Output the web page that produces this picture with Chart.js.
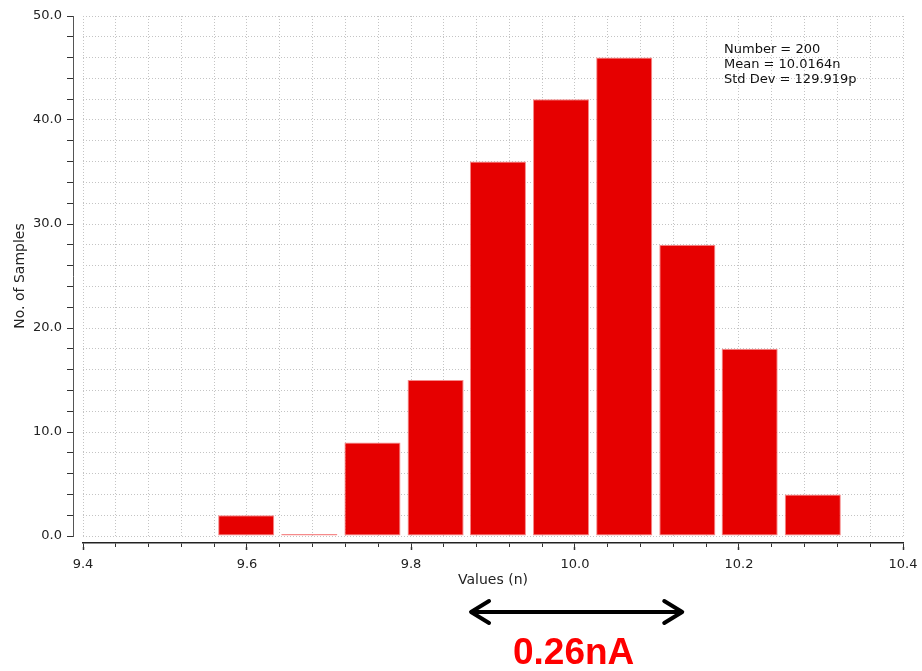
<!DOCTYPE html>
<html>
<head>
<meta charset="utf-8">
<title>Histogram</title>
<script src="https://cdn.jsdelivr.net/npm/chart.js@4.4.1/dist/chart.umd.min.js"></script>
<style>
  html, body { margin: 0; padding: 0; background: #fff; }
  #mycanvas { display: block; }
</style>
</head>
<body>
<canvas id="mycanvas" width="922" height="671"></canvas>
<script>
// histogram bins: centre of each bin (n) and number of samples in it
var binCenters = [9.599, 9.676, 9.753, 9.830, 9.906, 9.983, 10.060, 10.137, 10.213, 10.290];
var binCounts = [2, 0, 9, 15, 36, 42, 46, 28, 18, 4];

var xMin = 9.4, xMax = 10.4;
var yMin = 0, yMax = 50;
var xLabelValues = [9.4, 9.6, 9.8, 10.0, 10.2, 10.4];
var yLabelValues = [0, 10, 20, 30, 40, 50];

var statsLines = ['Number = 200', 'Mean = 10.0164n', 'Std Dev = 129.919p'];
var spreadFrom = 9.872, spreadTo = 10.132;
var spreadLabel = '0.26nA';

Chart.defaults.font.family = '"DejaVu Sans", sans-serif';
Chart.defaults.font.size = 13;
Chart.defaults.color = '#222';

// stats box, the spread arrow and its label
var annotations = {
    id: 'annotations',
    afterDraw: function(chart) {
        var ctx = chart.ctx;
        var xs = chart.scales.x;
        ctx.save();

        ctx.fillStyle = '#111';
        ctx.font = '13px "DejaVu Sans", sans-serif';
        ctx.textAlign = 'left';
        ctx.textBaseline = 'middle';
        for (var i = 0; i < statsLines.length; i++) {
            ctx.fillText(statsLines[i], 724, 50 + i * 15);
        }

        var x1 = xs.getPixelForValue(spreadFrom);
        var x2 = xs.getPixelForValue(spreadTo);
        var y = 612;
        ctx.strokeStyle = '#000';
        ctx.lineWidth = 4;
        ctx.lineCap = 'round';
        ctx.lineJoin = 'round';
        ctx.beginPath();
        ctx.moveTo(x1 + 2, y);
        ctx.lineTo(x2 - 2, y);
        ctx.moveTo(x1 + 19, y - 11);
        ctx.lineTo(x1 + 1, y);
        ctx.lineTo(x1 + 19, y + 11);
        ctx.moveTo(x2 - 19, y - 11);
        ctx.lineTo(x2 - 1, y);
        ctx.lineTo(x2 - 19, y + 11);
        ctx.stroke();

        ctx.fillStyle = '#ff0000';
        ctx.font = 'bold 37px "Liberation Sans", Arial, sans-serif';
        ctx.textAlign = 'center';
        ctx.textBaseline = 'alphabetic';
        ctx.fillText(spreadLabel, (x1 + x2) / 2 - 3, 664);

        ctx.restore();
    }
};

// keep the end labels from shrinking the plot
function noSidePadding(s) {
    s.paddingLeft = 0;
    s.paddingRight = 0;
}

var points = [];
for (var i in binCenters) {
    points.push({x: binCenters[i], y: binCounts[i]});
}

var ctx = document.getElementById('mycanvas');

var histogram = new Chart(ctx, {
    type: 'bar',
    data: {
        datasets: [{
            label: 'No. of Samples',
            data: points,
            backgroundColor: '#e60000',
            borderColor: '#f58a8a',
            borderWidth: 1,
            borderSkipped: false,
            minBarLength: 2,
            barPercentage: 0.9,
            categoryPercentage: 1.0,
            xAxisID: 'x',
            yAxisID: 'y'
        }]
    },
    options: {
        responsive: false,
        animation: false,
        layout: { padding: { left: 0, top: 16, right: 19, bottom: 82 } },
        plugins: {
            legend: { display: false },
            tooltip: { enabled: false }
        },
        scales: {
            // value scale the bars sit on (coarse ticks so bar width follows the bin spacing)
            x: {
                type: 'linear', position: 'bottom', min: xMin, max: xMax,
                display: false, weight: 0, offset: false,
                grid: { offset: false },
                ticks: { stepSize: 0.2 }
            },
            // dotted grid inside the plot
            xGrid: {
                type: 'linear', position: 'bottom', min: xMin, max: xMax,
                weight: 0, offset: false,
                grid: { offset: false, color: '#c4c4c4', lineWidth: 1, drawTicks: false },
                border: { display: false, dash: [1, 2] },
                ticks: { display: false, stepSize: 0.04, autoSkip: false },
                afterFit: function(s) { s.height = 7; noSidePadding(s); }
            },
            y: {
                type: 'linear', position: 'left', min: yMin, max: yMax,
                weight: 0,
                grid: { color: '#c4c4c4', lineWidth: 1, drawTicks: false },
                border: { display: false, dash: [1, 2] },
                ticks: { display: false, stepSize: 2, autoSkip: false },
                afterFit: function(s) { s.width = 10; }
            },
            // axis line and minor ticks, set a little below the plot
            xMinor: {
                type: 'linear', position: 'bottom', min: xMin, max: xMax,
                weight: 1, offset: false,
                grid: { offset: false, drawOnChartArea: false, tickLength: 4, tickColor: '#333', tickWidth: 1 },
                border: { display: true, color: '#222', width: 1.5 },
                ticks: { display: false, stepSize: 0.04, autoSkip: false },
                afterFit: function(s) { s.height = 4; noSidePadding(s); }
            },
            // major ticks with labels
            xMajor: {
                type: 'linear', position: 'bottom', min: xMin, max: xMax,
                weight: 2, offset: false,
                grid: { offset: false, drawOnChartArea: false, tickLength: 3, tickColor: '#333', tickWidth: 1.5 },
                border: { display: false },
                afterBuildTicks: function(s) {
                    s.ticks = xLabelValues.map(function(v) { return {value: v}; });
                },
                ticks: {
                    autoSkip: false, maxRotation: 0, padding: 7, color: '#222',
                    callback: function(v) { return Number(v).toFixed(1); }
                },
                title: { display: true, text: 'Values (n)', color: '#222', font: { size: 14 }, padding: { top: 0, bottom: 0 } },
                afterFit: function(s) { s.height = 42; noSidePadding(s); }
            },
            yAxis: {
                type: 'linear', position: 'left', min: yMin, max: yMax,
                weight: 1,
                grid: { drawOnChartArea: false, tickLength: 6, tickColor: '#333', tickWidth: 1 },
                border: { display: true, color: '#555', width: 1 },
                ticks: {
                    stepSize: 2, autoSkip: false, padding: 5, color: '#222',
                    callback: function(v) {
                        return yLabelValues.indexOf(v) >= 0 ? v.toFixed(1) : '';
                    }
                },
                title: { display: true, text: 'No. of Samples', color: '#222', font: { size: 14 }, padding: { top: 12, bottom: 0 } },
                afterFit: function(s) { s.width = 73; }
            }
        }
    },
    plugins: [annotations]
});
</script>
</body>
</html>
